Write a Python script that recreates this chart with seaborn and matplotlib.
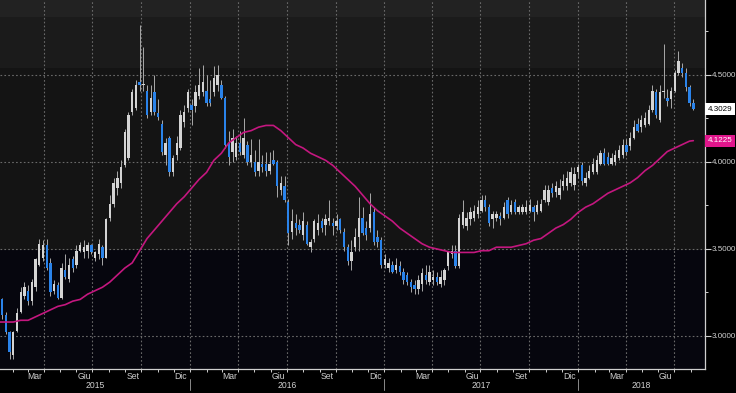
import numpy as np
import pandas as pd
import matplotlib
matplotlib.use("Agg")
import matplotlib.pyplot as plt
import matplotlib.dates as mdates
import matplotlib.transforms as mtransforms
from matplotlib.ticker import MultipleLocator, NullFormatter, FuncFormatter
import seaborn as sns

# ============================================================
# DATA (weekly candles)
# ============================================================
opens = [
    3.25, 3.21, 3.12, 3.02, 2.89, 3.03, 3.14, 3.23, 3.26, 3.20,
    3.28, 3.41, 3.45, 3.52, 3.42, 3.26, 3.29, 3.22, 3.38, 3.33,
    3.44, 3.41, 3.49, 3.48, 3.49, 3.52, 3.45, 3.47, 3.51, 3.45,
    3.68, 3.76, 3.85, 3.88, 3.98, 4.02, 4.29, 4.31, 4.46, 4.44,
    4.41, 4.29, 4.40, 4.28, 4.22, 4.04, 4.14, 3.94, 4.04, 4.08,
    4.23, 4.31, 4.33, 4.32, 4.38, 4.40, 4.41, 4.36, 4.40, 4.44,
    4.44, 4.37, 4.11, 4.06, 4.03, 4.11, 4.04, 4.10, 4.00, 4.00,
    3.95, 3.99, 3.99, 3.95, 4.01, 4.00, 3.84, 3.86, 3.77, 3.60,
    3.65, 3.64, 3.58, 3.64, 3.51, 3.56, 3.61, 3.66, 3.64, 3.66,
    3.65, 3.63, 3.67, 3.60, 3.51, 3.43, 3.51, 3.57, 3.68, 3.62,
    3.62, 3.71, 3.57, 3.55, 3.41, 3.39, 3.41, 3.38, 3.40, 3.37,
    3.35, 3.31, 3.29, 3.27, 3.30, 3.35, 3.31, 3.32, 3.34, 3.30,
    3.32, 3.40, 3.47, 3.49, 3.40, 3.64, 3.63, 3.67, 3.68, 3.70,
    3.72, 3.78, 3.74, 3.67, 3.68, 3.69, 3.68, 3.78, 3.71, 3.77,
    3.71, 3.71, 3.71, 3.72, 3.74, 3.71, 3.72, 3.78, 3.77, 3.85,
    3.83, 3.81, 3.86, 3.86, 3.88, 3.87, 3.94, 3.98, 3.88, 3.91,
    3.94, 3.94, 3.99, 4.05, 4.03, 3.99, 4.00, 4.02, 4.04, 4.10,
    4.09, 4.14, 4.22, 4.20, 4.21, 4.22, 4.30, 4.40, 4.24, 4.40,
    4.37, 4.36, 4.41, 4.51, 4.54, 4.51, 4.43, 4.34,
]
highs = [
    3.29, 3.22, 3.14, 3.03, 3.03, 3.16, 3.28, 3.31, 3.29, 3.33,
    3.45, 3.56, 3.55, 3.56, 3.45, 3.32, 3.31, 3.42, 3.47, 3.45,
    3.46, 3.52, 3.54, 3.55, 3.54, 3.53, 3.49, 3.56, 3.52, 3.68,
    3.81, 3.91, 3.95, 4.01, 4.19, 4.29, 4.42, 4.47, 4.79, 4.66,
    4.44, 4.44, 4.50, 4.36, 4.24, 4.14, 4.15, 4.04, 4.15, 4.30,
    4.33, 4.42, 4.36, 4.44, 4.54, 4.56, 4.50, 4.47, 4.55, 4.56,
    4.47, 4.38, 4.18, 4.19, 4.15, 4.18, 4.25, 4.12, 4.13, 4.07,
    4.13, 4.04, 4.06, 4.06, 4.07, 4.01, 3.92, 3.92, 3.79, 3.73,
    3.70, 3.67, 3.71, 3.66, 3.56, 3.67, 3.70, 3.68, 3.70, 3.78,
    3.68, 3.70, 3.68, 3.62, 3.53, 3.55, 3.62, 3.80, 3.74, 3.66,
    3.82, 3.74, 3.61, 3.57, 3.47, 3.45, 3.43, 3.45, 3.43, 3.39,
    3.37, 3.33, 3.32, 3.35, 3.39, 3.41, 3.41, 3.38, 3.37, 3.38,
    3.39, 3.49, 3.52, 3.52, 3.70, 3.78, 3.71, 3.74, 3.75, 3.78,
    3.81, 3.81, 3.76, 3.72, 3.72, 3.71, 3.77, 3.80, 3.78, 3.79,
    3.75, 3.76, 3.78, 3.79, 3.75, 3.78, 3.79, 3.87, 3.87, 3.88,
    3.89, 3.90, 3.93, 3.95, 3.97, 3.97, 3.99, 4.00, 3.94, 3.98,
    4.02, 4.04, 4.07, 4.08, 4.06, 4.05, 4.07, 4.10, 4.13, 4.13,
    4.17, 4.24, 4.25, 4.27, 4.29, 4.33, 4.44, 4.42, 4.44, 4.68,
    4.42, 4.43, 4.53, 4.64, 4.57, 4.54, 4.44, 4.36,
]
lows = [
    3.21, 3.10, 3.01, 2.87, 2.87, 3.02, 3.13, 3.21, 3.18, 3.18,
    3.26, 3.40, 3.43, 3.38, 3.23, 3.24, 3.21, 3.21, 3.33, 3.31,
    3.37, 3.39, 3.48, 3.45, 3.45, 3.47, 3.43, 3.44, 3.41, 3.45,
    3.66, 3.74, 3.81, 3.85, 3.97, 4.01, 4.27, 4.30, 4.41, 4.41,
    4.25, 4.27, 4.27, 4.24, 4.04, 3.98, 3.92, 3.92, 4.01, 4.07,
    4.20, 4.29, 4.21, 4.29, 4.36, 4.38, 4.32, 4.32, 4.38, 4.41,
    4.36, 4.08, 3.98, 4.00, 4.01, 4.04, 4.02, 3.98, 3.97, 3.92,
    3.92, 3.94, 3.92, 3.93, 3.98, 3.80, 3.81, 3.77, 3.52, 3.56,
    3.58, 3.59, 3.55, 3.52, 3.48, 3.54, 3.58, 3.60, 3.58, 3.64,
    3.58, 3.61, 3.59, 3.49, 3.41, 3.38, 3.49, 3.49, 3.58, 3.55,
    3.60, 3.52, 3.51, 3.39, 3.39, 3.37, 3.36, 3.36, 3.35, 3.30,
    3.29, 3.25, 3.24, 3.24, 3.26, 3.30, 3.29, 3.29, 3.29, 3.28,
    3.29, 3.38, 3.45, 3.39, 3.39, 3.62, 3.61, 3.64, 3.66, 3.68,
    3.71, 3.72, 3.63, 3.62, 3.66, 3.64, 3.67, 3.68, 3.70, 3.70,
    3.70, 3.70, 3.70, 3.71, 3.66, 3.70, 3.71, 3.77, 3.75, 3.80,
    3.80, 3.79, 3.84, 3.84, 3.86, 3.84, 3.91, 3.87, 3.86, 3.90,
    3.93, 3.93, 3.98, 3.98, 3.98, 3.98, 3.98, 4.01, 4.02, 4.04,
    4.07, 4.13, 4.17, 4.17, 4.20, 4.21, 4.29, 4.25, 4.23, 4.37,
    4.32, 4.31, 4.40, 4.50, 4.49, 4.41, 4.32, 4.30,
]
closes = [
    3.22, 3.12, 3.02, 2.91, 3.02, 3.13, 3.25, 3.28, 3.20, 3.31,
    3.44, 3.53, 3.52, 3.39, 3.25, 3.30, 3.22, 3.39, 3.34, 3.41,
    3.39, 3.49, 3.52, 3.51, 3.52, 3.48, 3.48, 3.53, 3.45, 3.67,
    3.76, 3.88, 3.91, 3.97, 4.17, 4.27, 4.40, 4.44, 4.44, 4.45,
    4.27, 4.37, 4.29, 4.26, 4.06, 4.11, 3.94, 4.02, 4.11, 4.27,
    4.29, 4.40, 4.30, 4.40, 4.44, 4.46, 4.34, 4.34, 4.48, 4.50,
    4.37, 4.10, 4.03, 4.14, 4.11, 4.06, 4.14, 4.00, 4.04, 3.94,
    4.00, 3.97, 3.95, 3.99, 3.99, 3.86, 3.88, 3.78, 3.59, 3.66,
    3.62, 3.61, 3.66, 3.53, 3.54, 3.66, 3.65, 3.62, 3.67, 3.68,
    3.63, 3.66, 3.61, 3.51, 3.43, 3.48, 3.57, 3.68, 3.59, 3.58,
    3.70, 3.54, 3.54, 3.41, 3.44, 3.42, 3.37, 3.41, 3.37, 3.32,
    3.31, 3.28, 3.27, 3.32, 3.36, 3.32, 3.37, 3.34, 3.31, 3.34,
    3.38, 3.48, 3.49, 3.40, 3.68, 3.71, 3.68, 3.71, 3.72, 3.74,
    3.78, 3.74, 3.65, 3.70, 3.70, 3.67, 3.74, 3.70, 3.75, 3.71,
    3.74, 3.74, 3.74, 3.75, 3.71, 3.75, 3.76, 3.84, 3.84, 3.82,
    3.86, 3.85, 3.89, 3.91, 3.94, 3.93, 3.97, 3.89, 3.91, 3.95,
    3.99, 4.01, 4.05, 3.99, 3.99, 4.02, 4.04, 4.07, 4.10, 4.06,
    4.14, 4.20, 4.18, 4.24, 4.25, 4.30, 4.41, 4.27, 4.40, 4.41,
    4.35, 4.41, 4.51, 4.58, 4.51, 4.43, 4.34, 4.3029,
]
# moving average, read every 2 weeks plus the last week
ma_values = [
    3.08, 3.08, 3.08, 3.09, 3.09, 3.11, 3.13, 3.15, 3.17, 3.18,
    3.20, 3.21, 3.24, 3.26, 3.28, 3.31, 3.35, 3.39, 3.42, 3.49,
    3.56, 3.61, 3.66, 3.71, 3.76, 3.80, 3.85, 3.90, 3.94, 4.01,
    4.05, 4.11, 4.14, 4.17, 4.18, 4.20, 4.21, 4.21, 4.18, 4.14,
    4.10, 4.08, 4.05, 4.03, 4.01, 3.98, 3.94, 3.90, 3.86, 3.81,
    3.76, 3.72, 3.69, 3.66, 3.62, 3.59, 3.56, 3.53, 3.51, 3.50,
    3.49, 3.48, 3.48, 3.48, 3.48, 3.49, 3.49, 3.51, 3.51, 3.51,
    3.52, 3.53, 3.55, 3.56, 3.59, 3.62, 3.64, 3.67, 3.71, 3.74,
    3.76, 3.79, 3.82, 3.84, 3.86, 3.88, 3.91, 3.95, 3.98, 4.02,
    4.06, 4.08, 4.10, 4.12, 4.1225,
]
month_labels = ["Mar", "Giu", "Set", "Dic"]
years = [2015, 2016, 2017, 2018]

week_dates = pd.date_range("2015-01-05", periods=len(closes), freq="W-MON")
ma_dates = list(week_dates[::2]) + [week_dates[-1]]

df = pd.DataFrame({"date": week_dates, "open": opens, "high": highs,
                   "low": lows, "close": closes})
df_ma = pd.DataFrame({"date": ma_dates, "ma": ma_values})

# ============================================================
# PLOT
# ============================================================
sns.set_theme(style="dark")
plt.rcParams["font.family"] = ["Liberation Sans", "DejaVu Sans"]

fig = plt.figure(figsize=(7.36, 3.93), dpi=100, facecolor="black")
ax = fig.add_axes([0, 24 / 393, 705 / 736, 369 / 393])
ax.set_facecolor("#06060e")

x_start, x_end = pd.Timestamp("2015-01-08"), pd.Timestamp("2018-08-28")
ax.set_xlim(x_start, x_end)
ax.set_ylim(2.81, 4.931)

# background bands
ax.axhspan(3.494, 4.54, color="#141414", zorder=0, lw=0)
ax.axhspan(4.54, 4.833, color="#1b1b1b", zorder=0, lw=0)
ax.axhspan(4.833, 5.0, color="#222222", zorder=0, lw=0)

# candles
xs = mdates.date2num(df["date"])
up = (df["close"] >= df["open"]).to_numpy()
bottom = np.minimum(df["open"], df["close"]).to_numpy()
height = np.maximum((df["close"] - df["open"]).abs().to_numpy(), 0.008)
ax.vlines(xs, df["low"], df["high"], color="#a9a9a9", linewidth=0.7, zorder=3)
ax.bar(xs[up], height[up], bottom=bottom[up], width=4.5,
       color="#d4d4d4", linewidth=0, zorder=4)
ax.bar(xs[~up], height[~up], bottom=bottom[~up], width=4.5,
       color="#2a83ea", linewidth=0, zorder=4)

# moving average
sns.lineplot(data=df_ma, x="date", y="ma", ax=ax, color="#c4177f",
             linewidth=1.2, zorder=5)
ax.set_xlabel("")
ax.set_ylabel("")

# grid & ticks
ax.xaxis.set_major_locator(mdates.MonthLocator(bymonth=[1, 4, 7, 10]))
ax.xaxis.set_minor_locator(mdates.MonthLocator())
ax.xaxis.set_major_formatter(NullFormatter())
ax.yaxis.set_major_locator(MultipleLocator(0.5))
ax.yaxis.set_minor_locator(MultipleLocator(0.25))
ax.yaxis.set_major_formatter(FuncFormatter(lambda v, p: f"{v:.4f}"))
ax.yaxis.tick_right()
ax.grid(True, which="major", linestyle=(0, (1.5, 2)), color="#6a6a6a",
        linewidth=0.8, zorder=1)
ax.set_axisbelow(False)
for ln in ax.get_xgridlines() + ax.get_ygridlines():
    ln.set_zorder(1)

ax.tick_params(axis="y", which="major", direction="out", length=4, width=0.8,
               color="#cfcfcf", labelcolor="#d0d0d0", labelsize=5.8, pad=1,
               right=True, left=False)
ax.tick_params(axis="y", which="minor", direction="out", length=2.5,
               width=0.7, color="#cfcfcf", right=True, left=False)
ax.tick_params(axis="x", which="both", direction="out", length=2.5,
               width=0.7, color="#cfcfcf", bottom=True)

for side in ["top", "left"]:
    ax.spines[side].set_visible(False)
for side in ["right", "bottom"]:
    ax.spines[side].set_visible(True)
    ax.spines[side].set_color("#cfcfcf")
    ax.spines[side].set_linewidth(0.9)

# month and year labels below axis
trans = mtransforms.blended_transform_factory(ax.transData, ax.transAxes)
for yr in years:
    for m, name in zip([3, 6, 9, 12], month_labels):
        d = pd.Timestamp(year=yr, month=m, day=15)
        if x_start < d < x_end:
            ax.text(d, -0.02, name, transform=trans, ha="center", va="center",
                    color="#d0d0d0", fontsize=6.2)
    y0 = max(pd.Timestamp(year=yr, month=1, day=1), x_start)
    y1 = min(pd.Timestamp(year=yr + 1, month=1, day=1), x_end)
    mid = y0 + (y1 - y0) / 2
    ax.text(mid, -0.045, str(yr), transform=trans, ha="center", va="center",
            color="#d0d0d0", fontsize=6.2)
    if yr > years[0]:
        sep = pd.Timestamp(year=yr, month=1, day=1)
        ax.plot([sep, sep], [-0.026, -0.058], transform=trans, color="#8a8a8a",
                linewidth=0.7, clip_on=False)

# last value tags
ytrans = mtransforms.blended_transform_factory(ax.transAxes, ax.transData)
ax.text(1.004, closes[-1], f"{closes[-1]:.4f}", transform=ytrans,
        ha="left", va="center", fontsize=5.8, color="black",
        bbox=dict(boxstyle="square,pad=0.3", fc="white", ec="none"))
ax.text(1.004, ma_values[-1], f"{ma_values[-1]:.4f}", transform=ytrans,
        ha="left", va="center", fontsize=5.8, color="white",
        bbox=dict(boxstyle="square,pad=0.3", fc="#e0168c", ec="none"))

fig.savefig("out.png", dpi=100, facecolor="black")
